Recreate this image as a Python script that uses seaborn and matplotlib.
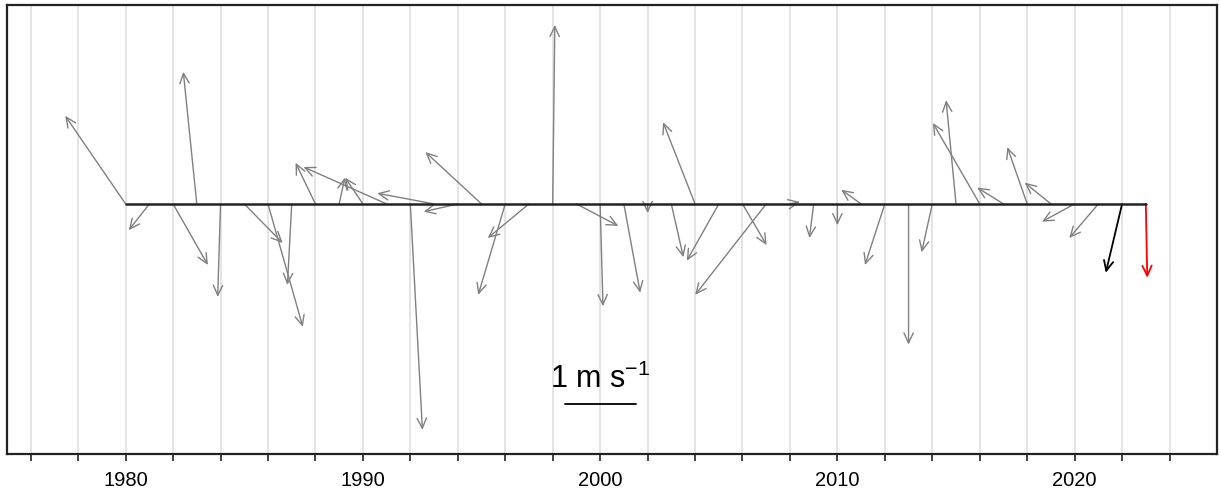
import matplotlib
matplotlib.use("Agg")
import matplotlib.pyplot as plt
import pandas as pd
import seaborn as sns

# yearly mean wind vectors (m/s)
years = list(range(1980, 2024))
u_wind = [-0.85, -0.29, 0.49, -0.19, -0.04, 0.54, 0.49, -0.06, -0.28, 0.08,
          -0.25, -1.17, 0.17, -0.80, -0.48, -0.79, -0.38, -0.58, 0.03, 0.59,
          0.04, 0.23, 0.00, 0.17, -0.45, -0.45, 0.34, -1.00, 0.14, -0.06,
          0.00, -0.28, -0.28, 0.00, -0.15, -0.14, -0.66, -0.37, -0.28, -0.37,
          -0.46, -0.41, -0.23, 0.02]
v_wind = [1.24, -0.37, -0.86, 1.86, -1.31, -0.55, -1.73, -1.14, 0.58, 0.37,
          0.37, 0.52, -3.18, 0.15, -0.11, 0.73, -1.28, -0.48, 2.52, -0.31,
          -1.44, -1.25, -0.13, -0.75, 1.15, -0.80, -0.58, -1.28, 0.03, -0.48,
          -0.30, 0.20, -0.86, -1.98, -0.68, 1.46, 1.14, 0.23, 0.80, 0.30,
          -0.25, -0.48, -0.97, -1.04]
tick_years = list(range(1976, 2025, 2))
tick_labels = [str(y) if y % 10 == 0 else "" for y in tick_years]
scale_label = "1 m s$^{-1}$"

sns.set_theme(style="white")
plt.rcParams["font.family"] = ["Liberation Sans", "DejaVu Sans"]
plt.rcParams["mathtext.default"] = "regular"

df = pd.DataFrame({"year": years, "u": u_wind, "v": v_wind})
df["base"] = 0.0
df["color"] = "#808080"
df.loc[df["year"] == 2022, "color"] = "black"
df.loc[df["year"] == 2023, "color"] = "#ff0000"

fig = plt.figure(figsize=(12.21, 4.99), dpi=100)
ax = fig.add_axes([7 / 1221, 45 / 499, 1210 / 1221, 449 / 499])
ax.set_xlim(1975.0, 2026.0)
ax.set_ylim(-3.52, 2.80)

ax.grid(axis="x", color="#e2e2e2", lw=1.3)
ax.grid(axis="y", visible=False)
ax.set_axisbelow(True)

# years per 1 m/s so arrows keep their true direction on screen
p0 = ax.transData.transform((2000, 0))
p1 = ax.transData.transform((2001, 1))
k = (p1[1] - p0[1]) / (p1[0] - p0[0])

for _, r in df.iterrows():
    ax.annotate("", xy=(r["year"] + r["u"] * k, r["v"]), xytext=(r["year"], 0),
                arrowprops=dict(arrowstyle="->,head_length=0.6,head_width=0.28",
                                color=r["color"], lw=1.0 if r["year"] < 2022 else 1.3,
                                shrinkA=0, shrinkB=0),
                zorder=2)

sns.lineplot(data=df, x="year", y="base", color="#222222", lw=1.8, ax=ax, zorder=3)

# scale bar
ax.plot([2000 - k / 2, 2000 + k / 2], [-2.82, -2.82], color="black", lw=1.3)
ax.text(2000, -2.59, scale_label, ha="center", va="baseline", fontsize=22, color="black")

ax.set_xticks(tick_years)
ax.set_xticklabels(tick_labels)
ax.set_yticks([])
ax.tick_params(axis="x", bottom=True, direction="out", length=5, width=1.2,
               pad=7, labelsize=14.5, colors="#222222", labelcolor="black")
ax.set_xlabel("")
ax.set_ylabel("")
for s in ax.spines.values():
    s.set_visible(True)
    s.set_color("#222222")
    s.set_linewidth(1.6)

fig.savefig("out.png", dpi=100, facecolor="white")
